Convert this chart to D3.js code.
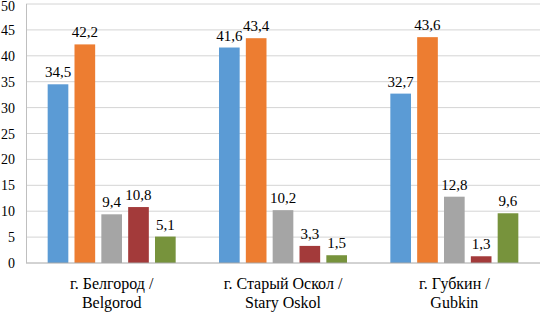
<!DOCTYPE html>
<html>
<head>
<meta charset="utf-8">
<script src="https://cdn.jsdelivr.net/npm/d3@7"></script>
<style>
  body { margin: 0; background: #fff; }
</style>
</head>
<body>
<div id="chart"></div>
<script>
// Data
const cities = ["г. Белгород /|Belgorod", "г. Старый Оскол /|Stary Oskol", "г. Губкин /|Gubkin"];
const series = ["s1", "s2", "s3", "s4", "s5"];
const colors = ["#5b9bd5", "#ed7d31", "#a5a5a5", "#a33a3a", "#77933c"];
const values = [
  [34.5, 42.2, 9.4, 10.8, 5.1],
  [41.6, 43.4, 10.2, 3.3, 1.5],
  [32.7, 43.6, 12.8, 1.3, 9.6]
];
const yTicks = [0, 5, 10, 15, 20, 25, 30, 35, 40, 45, 50];

let width = 540, height = 312;
let margin = { left: 26, right: 0, top: 4, bottom: 49 };
let font = "Liberation Serif";

let svg = d3.select("#chart").append("svg")
  .attr("width", width)
  .attr("height", height)
  .attr("font-family", font);

let xScale = d3.scaleBand()
  .domain(cities)
  .range([margin.left, width - margin.right]);

let inner = d3.scaleBand()
  .domain(series)
  .range([0, 128])
  .paddingInner(0.23);

let yScale = d3.scaleLinear()
  .domain([0, 50])
  .range([height - margin.bottom, margin.top]);

// gridlines
svg.append("g")
  .selectAll("line")
  .data(yTicks.slice(1))
  .join("line")
  .attr("x1", margin.left)
  .attr("x2", width)
  .attr("y1", d => yScale(d))
  .attr("y2", d => yScale(d))
  .style("stroke", "#d4d4d4")
  .style("stroke-width", 1);

// y tick labels
svg.append("g")
  .selectAll("text")
  .data(yTicks)
  .join("text")
  .attr("x", 15)
  .attr("y", d => Math.max(yScale(d) + 5, 11))
  .attr("text-anchor", "end")
  .attr("font-family", font)
  .attr("font-size", 14)
  .text(d => d);

// bars
let groups = svg.append("g")
  .selectAll("g")
  .data(cities)
  .join("g")
  .attr("transform", c => `translate(${xScale(c) + xScale.bandwidth() / 2 - 64},0)`);

groups.selectAll("rect")
  .data((c, i) => values[i].map((v, j) => ({ v: v, s: series[j], j: j })))
  .join("rect")
  .attr("x", d => inner(d.s))
  .attr("y", d => yScale(d.v))
  .attr("width", inner.bandwidth())
  .attr("height", d => yScale(0) - yScale(d.v))
  .style("fill", d => colors[d.j]);

groups.selectAll("text.val")
  .data((c, i) => values[i].map((v, j) => ({ v: v, s: series[j] })))
  .join("text")
  .attr("class", "val")
  .attr("x", d => inner(d.s) + inner.bandwidth() / 2)
  .attr("y", d => yScale(d.v) - 7)
  .attr("text-anchor", "middle")
  .attr("font-family", font)
  .attr("font-size", 15)
  .text(d => String(d.v).replace(".", ","));

// axes lines
svg.append("line")
  .attr("x1", margin.left).attr("x2", width)
  .attr("y1", yScale(0)).attr("y2", yScale(0))
  .style("stroke", "#a6a6a6");
svg.append("line")
  .attr("x1", margin.left + 0.5).attr("x2", margin.left + 0.5)
  .attr("y1", yScale(50)).attr("y2", yScale(0))
  .style("stroke", "#bfbfbf");

// category labels
let cat = svg.append("g")
  .selectAll("text")
  .data(cities)
  .join("text")
  .attr("text-anchor", "middle")
  .attr("font-family", font)
  .attr("font-size", 16);

cat.selectAll("tspan")
  .data(c => c.split("|").map(t => ({ t: t, c: c })))
  .join("tspan")
  .attr("x", d => xScale(d.c) + xScale.bandwidth() / 2)
  .attr("y", (d, i) => 289 + i * 19)
  .text(d => d.t);
</script>
</body>
</html>
